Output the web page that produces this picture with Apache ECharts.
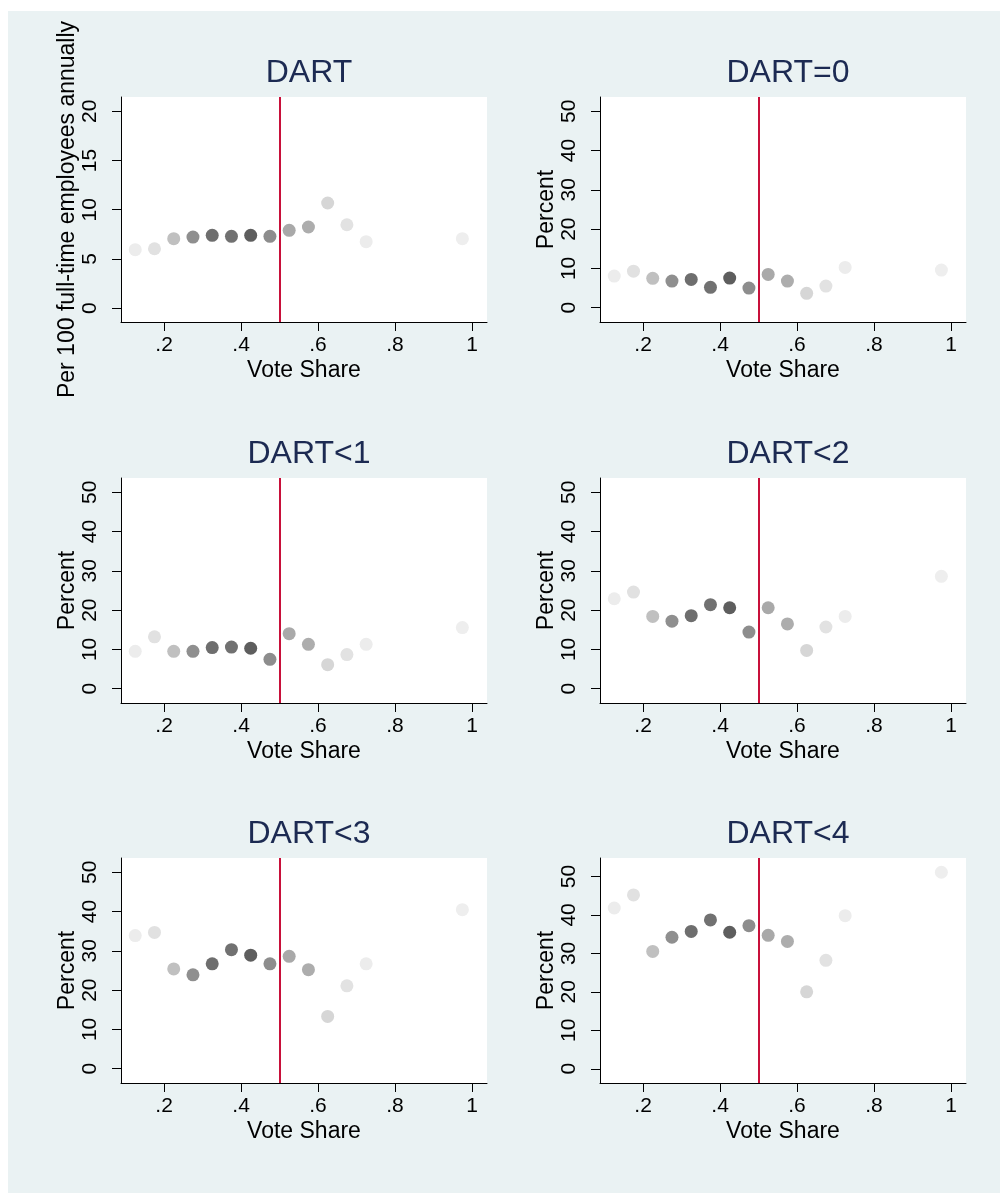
<!DOCTYPE html>
<html>
<head>
<meta charset="utf-8">
<script src="https://cdn.jsdelivr.net/npm/echarts@6/dist/echarts.min.js"></script>
<style>
  html, body { margin: 0; padding: 0; background: #ffffff; }
  #chart { position: absolute; left: 8px; top: 11px; width: 992px; height: 1182px; }
</style>
</head>
<body>
<div id="chart"></div>
<script>
// ---- data ----
const voteShareBins = [0.125, 0.175, 0.225, 0.275, 0.325, 0.375, 0.425, 0.475, 0.525, 0.575, 0.625, 0.675, 0.725, 0.975];
const binShades = ['#ececec', '#e1e1e1', '#c0c0c0', '#8f8f8f', '#6e6e6e', '#717171', '#5e5e5e', '#8d8d8d', '#a9a9a9', '#adadad', '#d6d6d6', '#e2e2e2', '#ececec', '#eeeeee'];

const dartRate = [5.93, 6.03, 7.05, 7.22, 7.39, 7.29, 7.39, 7.29, 7.9, 8.24, 10.68, 8.47, 6.75, 7.05];
const dartEq0  = [8.05, 9.3, 7.46, 6.78, 7.2, 5.17, 7.54, 5.0, 8.47, 6.78, 3.64, 5.5, 10.25, 9.58];
const dartLt1  = [9.52, 13.2, 9.52, 9.52, 10.46, 10.6, 10.3, 7.48, 14.0, 11.3, 6.12, 8.67, 11.3, 15.56];
const dartLt2  = [22.9, 24.6, 18.4, 17.2, 18.6, 21.4, 20.6, 14.4, 20.6, 16.5, 9.75, 15.7, 18.4, 28.6];
const dartLt3  = [33.9, 34.7, 25.4, 23.9, 26.7, 30.3, 28.9, 26.7, 28.6, 25.2, 13.3, 21.1, 26.7, 40.5];
const dartLt4  = [41.8, 45.2, 30.5, 34.2, 35.7, 38.7, 35.5, 37.2, 34.7, 33.1, 20.0, 28.2, 39.8, 51.1];

const panelTitles = ['DART', 'DART=0', 'DART<1', 'DART<2', 'DART<3', 'DART<4'];
const yAxisTitles = ['Per 100 full-time employees annually', 'Percent', 'Percent', 'Percent', 'Percent', 'Percent'];
const xAxisTitle = 'Vote Share';
const xTickValues = [0.2, 0.4, 0.6, 0.8, 1];
const yTicksRate = [0, 5, 10, 15, 20];
const yTicksPercent = [0, 10, 20, 30, 40, 50];
const cutoff = 0.5;

// ---- layout ----
const panelSeries = [dartRate, dartEq0, dartLt1, dartLt2, dartLt3, dartLt4];
const yTickSets = [yTicksRate, yTicksPercent, yTicksPercent, yTicksPercent, yTicksPercent, yTicksPercent];
const yRanges = [[-1.42, 21.46], [-3.65, 53.65], [-3.65, 53.65], [-3.65, 53.65], [-3.65, 53.65], [-3.7, 54.8]];
const colLeft = [113, 592];
const gridW = 366;
const rowTop = [86, 467, 847];
const gridH = 225;
const font = 'Liberation Sans, Arial, Helvetica, sans-serif';
const titleColor = '#1c2a52';

const grids = [], xAxes = [], yAxes = [], series = [], titles = [];
panelSeries.forEach((vals, i) => {
  const col = i % 2, row = Math.floor(i / 2);
  grids.push({
    left: colLeft[col], top: rowTop[row], width: gridW, height: gridH,
    containLabel: false, outerBoundsMode: 'none',
    show: true, backgroundColor: '#ffffff', borderWidth: 0
  });
  titles.push({
    text: panelTitles[i],
    left: colLeft[col] + gridW / 2,
    top: rowTop[row] - 45,
    textAlign: 'center',
    textStyle: { fontFamily: font, fontSize: 32, fontWeight: 'normal', color: titleColor }
  });
  xAxes.push({
    type: 'value', gridIndex: i, min: 0.088, max: 1.039,
    splitLine: { show: false },
    axisLine: { show: true, onZero: false, lineStyle: { color: '#000', width: 1 } },
    axisTick: { show: true, length: 9, customValues: xTickValues, lineStyle: { color: '#000' } },
    axisLabel: {
      customValues: xTickValues, margin: 13, color: '#000', fontFamily: font, fontSize: 21,
      formatter: v => (Math.abs(v - 1) < 1e-9 ? '1' : String(v).replace(/^0/, ''))
    },
    name: xAxisTitle, nameLocation: 'middle', nameGap: 37,
    nameTextStyle: { fontFamily: font, fontSize: 23, color: '#000' }
  });
  yAxes.push({
    type: 'value', gridIndex: i, min: yRanges[i][0], max: yRanges[i][1],
    splitLine: { show: false },
    axisLine: { show: true, onZero: false, lineStyle: { color: '#000', width: 1 } },
    axisTick: { show: true, length: 9, customValues: yTickSets[i], lineStyle: { color: '#000' } },
    axisLabel: {
      customValues: yTickSets[i], rotate: 90, margin: 20, color: '#000', fontFamily: font, fontSize: 21
    },
    name: yAxisTitles[i], nameLocation: 'middle', nameGap: 42, nameRotate: 90,
    nameTextStyle: { fontFamily: font, fontSize: 23, color: '#000' }
  });
  series.push({
    type: 'scatter', xAxisIndex: i, yAxisIndex: i,
    symbol: 'circle', symbolSize: 13,
    data: voteShareBins.map((x, k) => ({ value: [x, vals[k]], itemStyle: { color: binShades[k], opacity: 1 } })),
    emphasis: { disabled: true },
    markLine: {
      silent: true, symbol: ['none', 'none'], label: { show: false },
      lineStyle: { color: '#c8103a', width: 2, type: 'solid' },
      data: [{ xAxis: cutoff }]
    },
    z: 3
  });
});

const chart = echarts.init(document.getElementById('chart'), null, { renderer: 'canvas' });
chart.setOption({
  backgroundColor: '#eaf2f3',
  animation: false,
  title: titles,
  grid: grids,
  xAxis: xAxes,
  yAxis: yAxes,
  series: series
});
</script>
</body>
</html>
